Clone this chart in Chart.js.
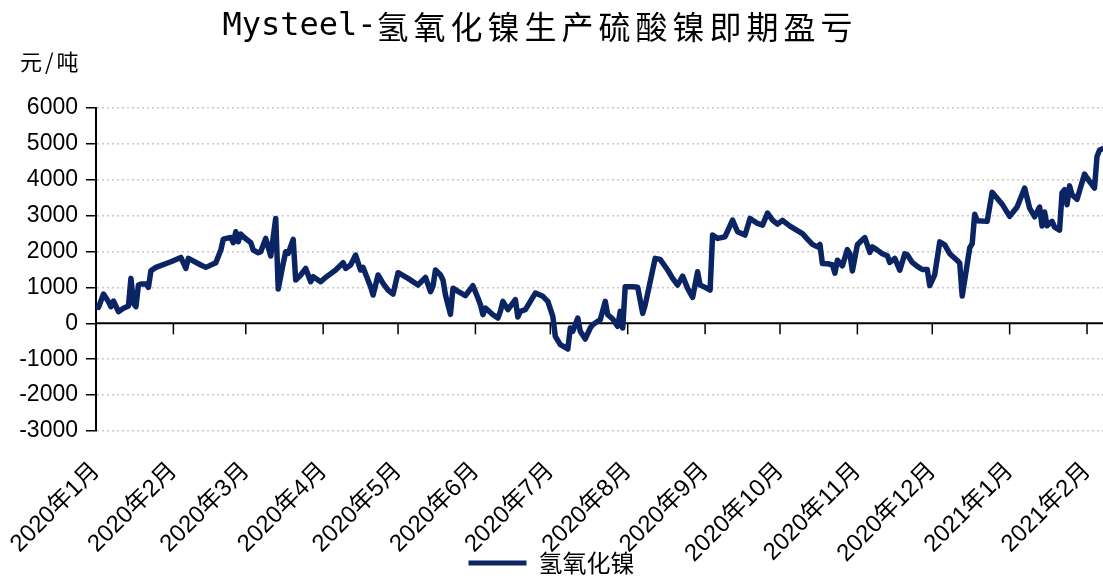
<!DOCTYPE html>
<html>
<head>
<meta charset="utf-8">
<script src="https://cdn.jsdelivr.net/npm/chart.js@4/dist/chart.umd.min.js"></script>
<style>
  html, body { margin: 0; padding: 0; background: #fff; }
</style>
</head>
<body>
<canvas id="chart" width="1103" height="578"></canvas>
<script>
// Mysteel 氢氧化镍生产硫酸镍即期盈亏 (元/吨)

const seriesName = '氢氧化镍';
const startDate = '2020-01-01';

const dates = [
  '2020-01-02','2020-01-04','2020-01-06','2020-01-07','2020-01-08','2020-01-10','2020-01-12','2020-01-14','2020-01-15','2020-01-16',
  '2020-01-17','2020-01-18','2020-01-19','2020-01-21','2020-01-22','2020-01-23','2020-01-25','2020-01-31','2020-02-04','2020-02-06',
  '2020-02-07','2020-02-12','2020-02-14','2020-02-18','2020-02-20','2020-02-21','2020-02-24','2020-02-25','2020-02-26','2020-02-27',
  '2020-02-28','2020-02-29','2020-03-03','2020-03-04','2020-03-06','2020-03-07','2020-03-09','2020-03-11','2020-03-12','2020-03-13',
  '2020-03-14','2020-03-16','2020-03-17','2020-03-18','2020-03-20','2020-03-21','2020-03-23','2020-03-25','2020-03-27','2020-03-28',
  '2020-03-31','2020-04-02','2020-04-06','2020-04-09','2020-04-10','2020-04-12','2020-04-14','2020-04-16','2020-04-17','2020-04-20',
  '2020-04-21','2020-04-23','2020-04-25','2020-04-27','2020-04-29','2020-05-01','2020-05-05','2020-05-09','2020-05-12','2020-05-14',
  '2020-05-15','2020-05-16','2020-05-18','2020-05-19','2020-05-20','2020-05-22','2020-05-23','2020-05-25','2020-05-28','2020-05-31',
  '2020-06-02','2020-06-03','2020-06-04','2020-06-05','2020-06-08','2020-06-10','2020-06-11','2020-06-12','2020-06-14','2020-06-15',
  '2020-06-17','2020-06-18','2020-06-19','2020-06-21','2020-06-23','2020-06-25','2020-06-28','2020-06-30','2020-07-02','2020-07-03',
  '2020-07-05','2020-07-08','2020-07-09','2020-07-10','2020-07-12','2020-07-13','2020-07-15','2020-07-17','2020-07-18','2020-07-20',
  '2020-07-21','2020-07-23','2020-07-24','2020-07-26','2020-07-28','2020-07-29','2020-07-30','2020-07-31','2020-08-03','2020-08-05',
  '2020-08-07','2020-08-08','2020-08-10','2020-08-12','2020-08-14','2020-08-17','2020-08-19','2020-08-21','2020-08-23','2020-08-25',
  '2020-08-27','2020-08-29','2020-08-30','2020-09-01','2020-09-03','2020-09-04','2020-09-06','2020-09-09','2020-09-12','2020-09-14',
  '2020-09-17','2020-09-19','2020-09-22','2020-09-24','2020-09-26','2020-09-28','2020-09-30','2020-10-02','2020-10-05','2020-10-10',
  '2020-10-12','2020-10-14','2020-10-16','2020-10-17','2020-10-18','2020-10-20','2020-10-22','2020-10-23','2020-10-24','2020-10-26',
  '2020-10-28','2020-10-29','2020-10-30','2020-11-01','2020-11-03','2020-11-04','2020-11-06','2020-11-07','2020-11-09','2020-11-11',
  '2020-11-13','2020-11-14','2020-11-16','2020-11-18','2020-11-20','2020-11-21','2020-11-23','2020-11-25','2020-11-27','2020-11-29',
  '2020-11-30','2020-12-02','2020-12-04','2020-12-06','2020-12-08','2020-12-11','2020-12-12','2020-12-13','2020-12-16','2020-12-17',
  '2020-12-18','2020-12-19','2020-12-23','2020-12-25','2020-12-29','2021-01-01','2021-01-04','2021-01-07','2021-01-09','2021-01-11',
  '2021-01-13','2021-01-14','2021-01-15','2021-01-16','2021-01-18','2021-01-19','2021-01-21','2021-01-22','2021-01-23','2021-01-24',
  '2021-01-25','2021-01-26','2021-01-28','2021-01-31','2021-02-01','2021-02-04','2021-02-05','2021-02-06','2021-02-07'
];

const values = [
  445, 817, 603, 464, 622, 325, 418, 483, 1253, 557,
  464, 1067, 1095, 1095, 1002, 1466, 1559, 1717, 1837, 1531,
  1810, 1624, 1559, 1689, 2042, 2348, 2394, 2246, 2552, 2274,
  2487, 2413, 2246, 2042, 1967, 1995, 2366, 1875, 2413, 2923,
  960, 1670, 1995, 1949, 2339, 1206, 1346, 1531, 1160, 1299,
  1160, 1281, 1485, 1689, 1531, 1624, 1902, 1485, 1559, 1021,
  789, 1346, 1114, 928, 817, 1411, 1253, 1067, 1281, 882,
  1039, 1485, 1346, 1206, 789, 250, 980, 891, 770, 1049,
  705, 520, 241, 427, 241, 148, 334, 612, 380, 473,
  659, 176, 334, 380, 612, 844, 752, 612, 195, -362,
  -594, -715, -130, -223, 148, -223, -436, -130, -37, 56,
  102, 612, 241, 121, -84, 334, -130, 1020, 1020, 1005,
  278, 510, 1160, 1810, 1782, 1485, 1253, 1067, 1318, 974,
  724, 1438, 1067, 1002, 928, 2459, 2366, 2413, 2877, 2552,
  2459, 2923, 2784, 2738, 3070, 2877, 2765, 2870, 2710, 2500,
  2346, 2200, 2130, 2200, 1665, 1659, 1631, 1399, 1760, 1603,
  2055, 1937, 1460, 2188, 2327, 2390, 1974, 2130, 2040, 1940,
  1882, 1696, 1810, 1480, 1937, 1909, 1696, 1585, 1500, 1500,
  1050, 1360, 2270, 2188, 1940, 1752, 1677, 760, 2100, 2220,
  3040, 2860, 2841, 3650, 3320, 2980, 3240, 3771, 3213, 2970,
  3241, 2710, 3100, 2720, 2840, 2683, 2600, 3640, 3725, 3306,
  3830, 3585, 3455, 4160, 4050, 3771, 4650, 4822, 4860
];

const monthTicks = [
  '2020-01-01','2020-02-01','2020-03-01','2020-04-01','2020-05-01','2020-06-01','2020-07-01',
  '2020-08-01','2020-09-01','2020-10-01','2020-11-01','2020-12-01','2021-01-01','2021-02-01'
];
const monthLabels = [
  '2020年1月','2020年2月','2020年3月','2020年4月','2020年5月','2020年6月','2020年7月',
  '2020年8月','2020年9月','2020年10月','2020年11月','2020年12月','2021年1月','2021年2月'
];
const lastDate = '2021-02-07';

const NAVY = '#0b2463';
const LABEL_FONT = "'Liberation Sans', 'Noto Sans CJK SC', sans-serif";

function dayOf(s) {
  return (Date.parse(s + 'T00:00:00Z') - Date.parse(startDate + 'T00:00:00Z')) / 86400000;
}

const points = dates.map((d, i) => ({ x: dayOf(d), y: values[i] }));

// title, unit label, and the zero axis with its month ticks
const decor = {
  id: 'decor',
  afterLayout(chart) {
    // month labels hang down beside the legend, don't clip them at the legend's top
    chart.scales.x.bottom = chart.height;
  },
  beforeDatasetsDraw(chart) {
    const { ctx, chartArea, scales } = chart;
    const y0 = scales.y.getPixelForValue(0);
    ctx.save();
    ctx.strokeStyle = '#000';
    ctx.lineWidth = 2;
    ctx.beginPath();
    ctx.moveTo(chartArea.left, y0);
    ctx.lineTo(chartArea.right, y0);
    ctx.stroke();
    ctx.lineWidth = 1.5;
    monthTicks.forEach(m => {
      const x = scales.x.getPixelForValue(dayOf(m));
      if (x <= chartArea.left + 1) return;
      ctx.beginPath();
      ctx.moveTo(x, y0);
      ctx.lineTo(x, y0 + 11);
      ctx.stroke();
    });
    ctx.restore();
  },
  afterDraw(chart) {
    const ctx = chart.ctx;
    ctx.save();
    ctx.fillStyle = '#000';
    ctx.textBaseline = 'middle';
    ctx.textAlign = 'left';

    const latin = 'Mysteel-';
    const cjk = '氢氧化镍生产硫酸镍即期盈亏';
    ctx.font = "32px 'DejaVu Sans Mono', monospace";
    const w1 = ctx.measureText(latin).width;
    ctx.font = "32px 'Noto Sans CJK SC', sans-serif";
    ctx.letterSpacing = '5px';
    const w2 = ctx.measureText(cjk).width;
    const x = 540 - (w1 + w2) / 2;
    ctx.letterSpacing = '0px';
    ctx.font = "32px 'DejaVu Sans Mono', monospace";
    ctx.fillText(latin, x, 27);
    ctx.font = "32px 'Noto Sans CJK SC', sans-serif";
    ctx.letterSpacing = '5px';
    ctx.fillText(cjk, x + w1, 27);

    ctx.font = "22px 'Noto Sans CJK SC', sans-serif";
    ctx.letterSpacing = '3px';
    ctx.fillText('元/吨', 20, 62);
    ctx.restore();
  }
};

new Chart(document.getElementById('chart'), {
  type: 'line',
  data: {
    datasets: [{
      label: seriesName,
      data: points,
      borderColor: NAVY,
      backgroundColor: NAVY,
      borderWidth: 5.5,
      pointRadius: 0,
      tension: 0,
      borderJoinStyle: 'round',
      borderCapStyle: 'round'
    }]
  },
  options: {
    responsive: false,
    animation: false,
    devicePixelRatio: 1,
    layout: { padding: { top: 108, left: 0, right: 0, bottom: 0 } },
    plugins: {
      title: { display: false },
      tooltip: { enabled: false },
      legend: {
        position: 'bottom',
        maxHeight: 27,
        labels: {
          boxWidth: 58,
          boxHeight: 5,
          padding: 0,
          color: '#000',
          font: { family: "'Noto Sans CJK SC', sans-serif", size: 24, lineHeight: 1 },
          generateLabels(chart) {
            return Chart.defaults.plugins.legend.labels.generateLabels(chart)
              .map(l => Object.assign(l, { lineWidth: 0 }));
          }
        }
      }
    },
    scales: {
      x: {
        type: 'linear',
        min: 0,
        max: dayOf(lastDate) + 0.4,
        afterBuildTicks(scale) {
          scale.ticks = monthTicks.map(m => ({ value: dayOf(m) }));
        },
        afterFit(scale) {
          scale.height = 120;
          scale.paddingLeft = 0;
          scale.paddingRight = 0;
        },
        ticks: {
          autoSkip: false,
          minRotation: 45,
          maxRotation: 45,
          padding: 26,
          color: '#000',
          font: { family: LABEL_FONT, size: 24 },
          callback: (v, i) => monthLabels[i]
        },
        grid: { display: false, drawTicks: false },
        border: { display: false }
      },
      y: {
        min: -3000,
        max: 6000,
        afterFit(scale) { scale.width = 96; },
        ticks: {
          stepSize: 1000,
          padding: 8,
          color: '#000',
          font: { family: LABEL_FONT, size: 23 },
          callback: v => String(v)
        },
        grid: {
          color: c => (c.tick && c.tick.value === 0) ? 'rgba(0,0,0,0)' : '#c8c8c8',
          lineWidth: 1.5,
          tickLength: 10,
          tickColor: '#000',
          tickWidth: 1.5,
          tickBorderDash: []
        },
        border: { display: true, color: '#000', width: 2, dash: [2, 3] }
      }
    }
  },
  plugins: [decor]
});
</script>
</body>
</html>
